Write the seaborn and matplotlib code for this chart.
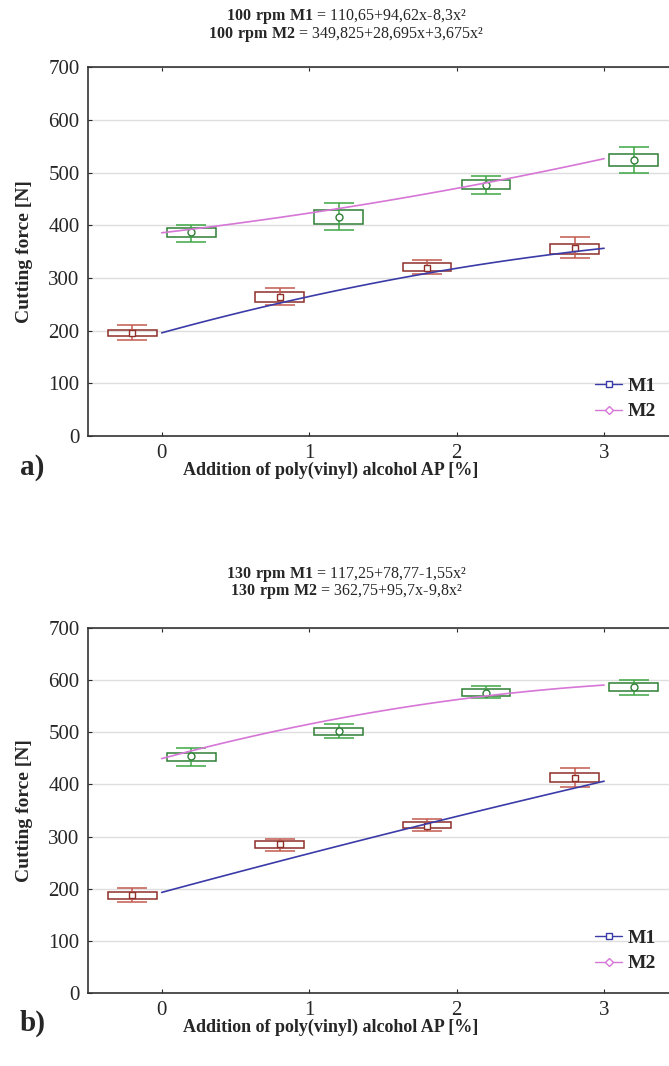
import matplotlib
matplotlib.use("Agg")
import matplotlib.pyplot as plt
from matplotlib.lines import Line2D
import seaborn as sns

# addition of poly(vinyl) alcohol AP [%]
ap_levels = [0, 1, 2, 3]

# a) 100 rpm  -- mean, box (low/high), whiskers (low/high)
a_m1_mean = [196, 264, 319, 356]
a_m1_box_lo = [189, 255, 313, 345]
a_m1_box_hi = [201, 273, 328, 364]
a_m1_whis_lo = [183, 249, 308, 337]
a_m1_whis_hi = [210, 281, 334, 377]

a_m2_mean = [388, 416, 477, 524]
a_m2_box_lo = [377, 403, 468, 512]
a_m2_box_hi = [394, 429, 485, 535]
a_m2_whis_lo = [369, 390, 459, 499]
a_m2_whis_hi = [401, 443, 494, 548]

# b) 130 rpm
b_m1_mean = [187, 285, 321, 412]
b_m1_box_lo = [181, 279, 316, 404]
b_m1_box_hi = [194, 292, 327, 421]
b_m1_whis_lo = [175, 273, 311, 395]
b_m1_whis_hi = [201, 295, 333, 431]

b_m2_mean = [454, 502, 576, 586]
b_m2_box_lo = [444, 495, 569, 580]
b_m2_box_hi = [461, 509, 583, 594]
b_m2_whis_lo = [435, 489, 565, 572]
b_m2_whis_hi = [470, 516, 589, 600]

a_title = [r"$\mathbf{100\ rpm\ M1}$ = 110,65+94,62x-8,3x²",
           r"$\mathbf{100\ rpm\ M2}$ = 349,825+28,695x+3,675x²"]
b_title = [r"$\mathbf{130\ rpm\ M1}$ = 117,25+78,77-1,55x²",
           r"$\mathbf{130\ rpm\ M2}$ = 362,75+95,7x-9,8x²"]

sns.set_style("ticks")
plt.rcParams['font.family'] = ['Liberation Serif', 'DejaVu Serif']
plt.rcParams['mathtext.fontset'] = 'custom'
plt.rcParams['mathtext.rm'] = 'Liberation Serif'
plt.rcParams['mathtext.bf'] = 'Liberation Serif:bold'

M1_BOX = '#8e2f2a'
M1_CAP = '#c25a4e'
M2_BOX = '#2f7f35'
M2_CAP = '#3da745'
M1_FIT = '#3b3ba8'
M2_FIT = '#d676d6'


def draw_group(ax, offset, mean, box_lo, box_hi, whis_lo, whis_hi, box_col, cap_col, marker):
    pos = [x + offset for x in ap_levels]
    heights = [h - l for l, h in zip(box_lo, box_hi)]
    ax.bar(pos, heights, bottom=box_lo, width=0.33, fill=False,
           edgecolor=box_col, linewidth=1.1, zorder=3)
    err = [[m - l for m, l in zip(mean, whis_lo)], [h - m for m, h in zip(mean, whis_hi)]]
    ax.errorbar(pos, mean, yerr=err, fmt=marker, ms=5, mfc='white', mec=box_col,
                ecolor=cap_col, elinewidth=1.1, capsize=11, capthick=1.1, zorder=4)


def draw_panel(ax, m1, m2, title, title_y, tag, tag_y, leg_y):
    draw_group(ax, -0.2, *m1, M1_BOX, M1_CAP, 's')
    draw_group(ax, 0.2, *m2, M2_BOX, M2_CAP, 'o')
    sns.regplot(x=ap_levels, y=m1[0], order=2, ci=None, scatter=False, ax=ax,
                line_kws=dict(color=M1_FIT, lw=1.2, zorder=5))
    sns.regplot(x=ap_levels, y=m2[0], order=2, ci=None, scatter=False, ax=ax,
                line_kws=dict(color=M2_FIT, lw=1.2, zorder=5))

    ax.set_xlim(-0.5, 3.44)
    ax.set_ylim(0, 700)
    ax.set_xticks(ap_levels)
    ax.set_yticks(range(0, 701, 100))
    ax.yaxis.grid(True, color='#dedede', lw=1)
    ax.set_axisbelow(True)
    ax.tick_params(direction='in', length=3, top=True, labelsize=15, pad=6)
    ax.spines['right'].set_visible(False)
    for s in ['left', 'bottom', 'top']:
        ax.spines[s].set_color('#333333')
        ax.spines[s].set_linewidth(1.2)

    ax.set_xlabel('Addition of poly(vinyl) alcohol AP [%]', fontsize=13, fontweight='bold')
    ax.xaxis.set_label_coords(0.418, -0.07)
    ax.set_ylabel('Cutting force [N]', fontsize=14, fontweight='bold')
    ax.yaxis.set_label_coords(-0.095, 0.5)

    fig = ax.figure
    fig.text(0.517, title_y, title[0], ha='center', va='center', fontsize=11.5)
    fig.text(0.517, title_y - 0.0165, title[1], ha='center', va='center', fontsize=11.5)

    handles = [Line2D([], [], color=M1_FIT, marker='s', ms=4, mfc='white', lw=1),
               Line2D([], [], color=M2_FIT, marker='D', ms=4, mfc='white', lw=1)]
    ax.legend(handles, ['M1', 'M2'], loc='lower right', bbox_to_anchor=(0.995, leg_y),
              frameon=False, prop=dict(weight='bold', size=14), handlelength=1.4,
              handletextpad=0.3, labelspacing=0.4, borderaxespad=0.1)

    fig.text(0.03, tag_y, tag, fontsize=21, fontweight='bold', va='center')


fig = plt.figure(figsize=(6.69, 10.66), dpi=100)
ax_a = fig.add_axes([0.1315, 0.591, 0.8685, 0.346])
ax_b = fig.add_axes([0.1315, 0.0685, 0.8685, 0.3424])

draw_panel(ax_a,
           (a_m1_mean, a_m1_box_lo, a_m1_box_hi, a_m1_whis_lo, a_m1_whis_hi),
           (a_m2_mean, a_m2_box_lo, a_m2_box_hi, a_m2_whis_lo, a_m2_whis_hi),
           a_title, 0.9845, 'a)', 0.561, 0.016)
draw_panel(ax_b,
           (b_m1_mean, b_m1_box_lo, b_m1_box_hi, b_m1_whis_lo, b_m1_whis_hi),
           (b_m2_mean, b_m2_box_lo, b_m2_box_hi, b_m2_whis_lo, b_m2_whis_hi),
           b_title, 0.4615, 'b)', 0.040, 0.03)

fig.savefig('out.png', dpi=100)
plt.close()
